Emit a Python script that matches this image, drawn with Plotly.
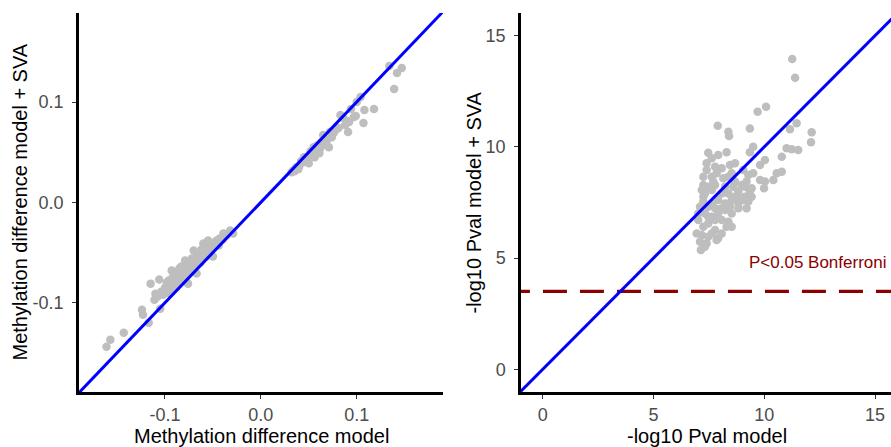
import plotly.graph_objects as go

# ---------------- data: left panel (methylation differences) ----------------
meth_model = [
    -0.161, -0.157, -0.143, -0.124, -0.123, -0.117, -0.115, -0.106, -0.111, -0.110,
    -0.105, -0.108, -0.104, -0.102, -0.100, -0.099, -0.098, -0.097, -0.096, -0.095,
    -0.094, -0.093, -0.092, -0.091, -0.090, -0.089, -0.088, -0.087, -0.086, -0.085,
    -0.084, -0.083, -0.082, -0.081, -0.080, -0.079, -0.078, -0.077, -0.076, -0.075,
    -0.074, -0.073, -0.072, -0.071, -0.070, -0.069, -0.068, -0.067, -0.066, -0.065,
    -0.064, -0.063, -0.062, -0.061, -0.060, -0.059, -0.058, -0.057, -0.056, -0.055,
    -0.054, -0.052, -0.050, -0.049, -0.047, -0.046, -0.044, -0.043, -0.040, -0.039,
    -0.036, -0.032, -0.029, -0.098, -0.091, -0.085, -0.078, -0.070, -0.064,
    0.147, 0.142, 0.134, 0.139, 0.118, 0.108, 0.107, 0.104, 0.100, 0.097,
    0.094, 0.091, 0.090, 0.088, 0.086, 0.083, 0.081, 0.078, 0.076, 0.074,
    0.072, 0.071, 0.069, 0.067, 0.065, 0.063, 0.062, 0.060, 0.059, 0.057,
    0.055, 0.054, 0.052, 0.050, 0.049, 0.047, 0.045, 0.044, 0.042, 0.040,
    0.039, 0.037, 0.035, 0.034, 0.032, 0.056, 0.061, 0.066, 0.092, 0.099,
]
meth_sva = [
    -0.144, -0.137, -0.130, -0.107, -0.112, -0.120, -0.081, -0.077, -0.097, -0.091,
    -0.106, -0.094, -0.089, -0.092, -0.085, -0.088, -0.080, -0.090, -0.078, -0.084,
    -0.087, -0.068, -0.075, -0.082, -0.079, -0.072, -0.084, -0.070, -0.077, -0.066,
    -0.074, -0.064, -0.078, -0.069, -0.072, -0.058, -0.066, -0.070, -0.081, -0.061,
    -0.067, -0.063, -0.056, -0.065, -0.048, -0.059, -0.062, -0.071, -0.053, -0.057,
    -0.051, -0.060, -0.047, -0.055, -0.041, -0.050, -0.044, -0.054, -0.046, -0.038,
    -0.049, -0.042, -0.054, -0.045, -0.039, -0.038, -0.043, -0.036, -0.037, -0.031,
    -0.033, -0.028, -0.031, -0.082, -0.086, -0.080, -0.075, -0.066, -0.058,
    0.134, 0.129, 0.136, 0.113, 0.093, 0.092, 0.079, 0.105, 0.100, 0.085,
    0.093, 0.070, 0.081, 0.077, 0.084, 0.087, 0.074, 0.072, 0.069, 0.065,
    0.070, 0.055, 0.062, 0.058, 0.067, 0.060, 0.054, 0.052, 0.057, 0.050,
    0.055, 0.048, 0.051, 0.039, 0.046, 0.043, 0.045, 0.040, 0.041, 0.036,
    0.033, 0.035, 0.031, 0.032, 0.030, 0.045, 0.049, 0.063, 0.080, 0.086,
]

# ---------------- data: right panel (-log10 p-values) ----------------
logp_model = [
    11.26, 11.39, 10.08, 9.70, 7.90, 8.38, 8.41, 9.35, 11.46, 11.16,
    12.14, 12.11, 9.50, 9.35, 11.01, 11.24, 11.53, 7.47, 7.92, 8.30,
    10.79, 10.03, 9.81, 7.40, 8.68, 8.45, 10.79, 10.56, 9.28, 9.50,
    9.81, 10.03, 10.41, 9.99, 7.25, 7.63, 8.08, 7.18, 7.25, 7.47,
    7.78, 8.38, 8.68, 8.83, 9.13, 9.35, 9.43, 9.28, 8.83, 9.05,
    9.20, 8.53, 8.23, 7.92, 7.63, 7.10, 7.32, 7.63, 7.92, 8.23,
    8.53, 8.83, 7.02, 7.25, 7.47, 7.78, 8.08, 8.38, 8.53, 6.95,
    7.18, 7.47, 7.63, 7.92, 7.10, 7.40, 7.85, 7.14, 7.32, 7.32,
    7.63, 8.08, 8.38, 8.23, 8.60, 8.98, 7.25, 7.40, 7.78, 7.63,
    7.70, 7.85, 8.15, 8.53, 9.05, 9.13, 9.20, 9.43, 8.90, 8.68,
    8.45, 8.08, 7.78, 7.47, 7.25, 7.02, 8.30, 8.08, 7.78, 7.47,
]
logp_sva = [
    13.95, 13.11, 11.81, 11.58, 10.95, 10.68, 10.49, 10.83, 11.06, 10.79,
    10.66, 10.21, 10.01, 9.76, 9.94, 9.89, 9.86, 9.74, 9.64, 9.76,
    9.56, 9.41, 9.19, 9.26, 9.26, 9.19, 8.88, 8.81, 8.74, 8.81,
    8.51, 8.44, 8.51, 8.14, 8.66, 8.66, 9.04, 8.06, 7.76, 8.21,
    8.29, 8.66, 8.44, 7.99, 7.76, 7.99, 7.76, 7.54, 7.46, 7.61,
    7.24, 7.61, 7.46, 7.61, 7.46, 7.31, 7.01, 6.86, 7.01, 7.16,
    7.01, 7.24, 6.71, 6.41, 6.56, 6.26, 6.71, 6.64, 6.41, 6.11,
    6.04, 5.96, 6.11, 5.89, 5.74, 5.67, 5.81, 5.36, 5.51, 7.91,
    8.06, 7.91, 7.91, 8.21, 8.21, 8.29, 8.29, 8.96, 9.11, 9.49,
    8.44, 8.81, 8.59, 8.81, 8.96, 8.21, 8.44, 8.14, 7.69, 7.76,
    7.31, 7.24, 7.24, 7.31, 7.54, 7.01, 6.41, 6.11, 6.71, 6.86,
]

bonferroni_threshold = 3.5
bonferroni_label = "P<0.05 Bonferroni"

left_xrange = [-0.1897, 0.190]
left_yrange = [-0.189, 0.1887]
right_xrange = [-0.98, 15.72]
right_yrange = [-1.02, 16.02]

left_ticks = [-0.1, 0.0, 0.1]
left_ticktext = ["-0.1", "0.0", "0.1"]
right_ticks = [0, 5, 10, 15]

# ---------------- figure ----------------
W, H = 891, 447
FONT = "Liberation Sans, Arial, sans-serif"
PT_COLOR = "#BEBEBE"
LINE_BLUE = "#0000FF"
DARKRED = "#8B0000"

fig = go.Figure()

fig.add_trace(go.Scatter(x=meth_model, y=meth_sva, mode="markers",
                         marker=dict(size=8.5, color=PT_COLOR),
                         xaxis="x", yaxis="y", showlegend=False, hoverinfo="skip"))
fig.add_trace(go.Scatter(x=[-1, 1], y=[-1, 1], mode="lines",
                         line=dict(color=LINE_BLUE, width=3),
                         xaxis="x", yaxis="y", showlegend=False))

fig.add_trace(go.Scatter(x=logp_model, y=logp_sva, mode="markers",
                         marker=dict(size=8.5, color=PT_COLOR),
                         xaxis="x2", yaxis="y2", showlegend=False, hoverinfo="skip"))
fig.add_trace(go.Scatter(x=[-5, 25], y=[bonferroni_threshold, bonferroni_threshold],
                         mode="lines",
                         line=dict(color=DARKRED, width=3.3, dash="24px,13px"),
                         xaxis="x2", yaxis="y2", showlegend=False))
fig.add_trace(go.Scatter(x=[-5, 25], y=[-5, 25], mode="lines",
                         line=dict(color=LINE_BLUE, width=3),
                         xaxis="x2", yaxis="y2", showlegend=False))

ydom = [1 - 392 / H, 1 - 13 / H]
axis_common = dict(showgrid=False, zeroline=False, showline=True, linecolor="black",
                   linewidth=2.5, ticks="outside", ticklen=4, tickwidth=1.1,
                   tickcolor="#333333", tickfont=dict(family=FONT, size=18, color="#4D4D4D"))

fig.update_layout(
    width=W, height=H,
    margin=dict(l=0, r=0, t=0, b=0),
    paper_bgcolor="white", plot_bgcolor="white",
    xaxis=dict(domain=[79 / W, 443 / W], range=left_xrange, tickvals=left_ticks,
               ticktext=left_ticktext, anchor="y", ticklabelstandoff=1, **axis_common),
    yaxis=dict(domain=ydom, range=left_yrange, tickvals=left_ticks,
               ticktext=left_ticktext, anchor="x", ticklabelstandoff=5, **axis_common),
    xaxis2=dict(domain=[521 / W, 1.0], range=right_xrange, tickvals=right_ticks,
                anchor="y2", ticklabelstandoff=1, **axis_common),
    yaxis2=dict(domain=ydom, range=right_yrange, tickvals=right_ticks,
                anchor="x2", ticklabelstandoff=5, **axis_common),
)

title_font = dict(family=FONT, size=20, color="black")
fig.add_annotation(text="Methylation difference model", xref="paper", yref="paper",
                   x=261 / W, y=1 - 436 / H, showarrow=False, font=title_font,
                   xanchor="center", yanchor="middle")
fig.add_annotation(text="-log10 Pval model", xref="paper", yref="paper",
                   x=707 / W, y=1 - 436 / H, showarrow=False, font=title_font,
                   xanchor="center", yanchor="middle")
fig.add_annotation(text="Methylation difference model + SVA", xref="paper", yref="paper",
                   x=19.5 / W, y=1 - 202 / H, showarrow=False, font=title_font,
                   textangle=-90, xanchor="center", yanchor="middle")
fig.add_annotation(text="-log10 Pval model + SVA", xref="paper", yref="paper",
                   x=473.5 / W, y=1 - 202 / H, showarrow=False, font=title_font,
                   textangle=-90, xanchor="center", yanchor="middle")
fig.add_annotation(text=bonferroni_label, xref="x2", yref="y2",
                   x=15.65, y=4.82, showarrow=False,
                   font=dict(family=FONT, size=17, color=DARKRED),
                   xanchor="right", yanchor="middle")

fig.write_html("out.html")
